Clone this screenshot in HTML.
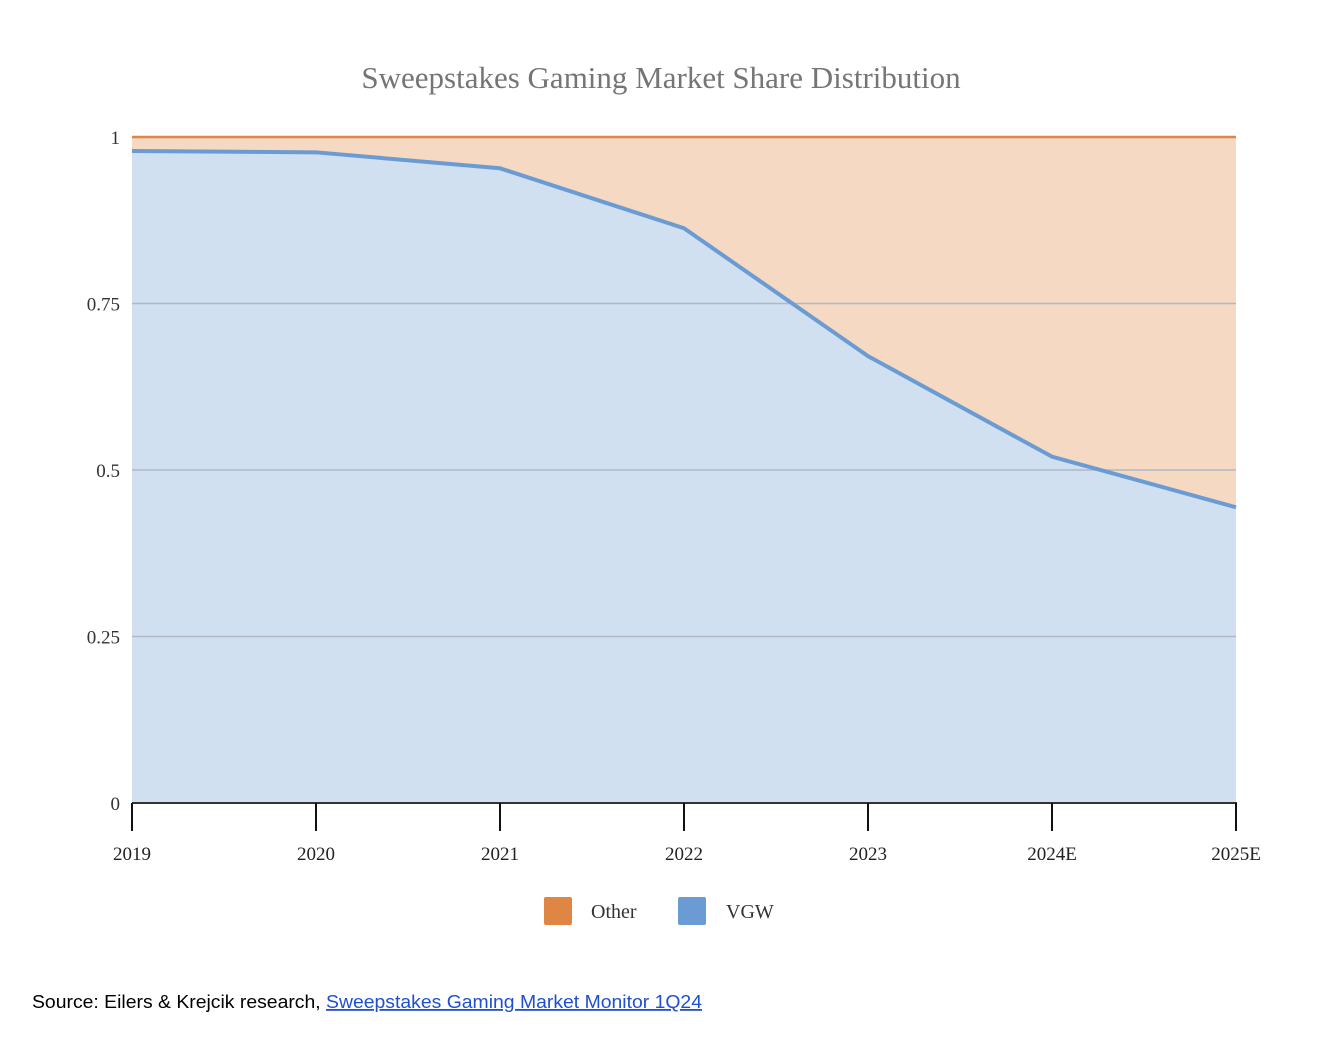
<!DOCTYPE html>
<html><head><meta charset="utf-8"><style>
html,body{margin:0;padding:0;background:#fff;width:1322px;height:1044px;overflow:hidden}
</style></head><body>
<svg id="chart" width="1322" height="1044" xmlns="http://www.w3.org/2000/svg" font-family="Liberation Serif, serif">
<text x="661" y="88" text-anchor="middle" font-size="31" fill="#757575">Sweepstakes Gaming Market Share Distribution</text>
<g id="grid"></g>
<g id="areas"></g>
<g id="axes"></g>
<g>
<rect x="544" y="897" width="28" height="28" rx="2" fill="#e08644"/>
<text x="591" y="918" font-size="20" fill="#333">Other</text>
<rect x="678" y="897" width="28" height="28" rx="2" fill="#6a9bd3"/>
<text x="726" y="918" font-size="20" fill="#333">VGW</text>
</g>
<text x="32" y="1008" font-family="Liberation Sans, sans-serif" font-size="18" fill="#000" textLength="670" lengthAdjust="spacingAndGlyphs">Source: Eilers &amp; Krejcik research, <tspan fill="#1d4fd0" text-decoration="underline">Sweepstakes Gaming Market Monitor 1Q24</tspan></text>
</svg>
<script>
const categories = ["2019","2020","2021","2022","2023","2024E","2025E"];
const vgwShare = [0.979, 0.977, 0.953, 0.863, 0.671, 0.520, 0.444];
const otherShare = [0.021, 0.023, 0.047, 0.137, 0.329, 0.480, 0.556];
const yTicks = [0, 0.25, 0.5, 0.75, 1];
const yTickLabels = ["0","0.25","0.5","0.75","1"];

const NS = "http://www.w3.org/2000/svg";
const x0 = 132, x1 = 1236, y0 = 803, y1 = 137;
const xScale = i => x0 + (x1 - x0) * i / (categories.length - 1);
const yScale = v => y0 - (y0 - y1) * v;
function mk(tag, attrs, parent){const e=document.createElementNS(NS,tag);for(const k in attrs)e.setAttribute(k,attrs[k]);parent.appendChild(e);return e;}
const grid = document.getElementById('grid'), areas = document.getElementById('areas'), axes = document.getElementById('axes');

// areas
let topPts = categories.map((c,i)=>[xScale(i), yScale(vgwShare[i]+otherShare[i])]);
let vgwPts = categories.map((c,i)=>[xScale(i), yScale(vgwShare[i])]);
let op = mk('polygon',{points:topPts.concat(vgwPts.slice().reverse()).map(p=>p.join(',')).join(' '),fill:'#f5d9c3'},areas);


let vp = mk('polygon',{points:vgwPts.concat([[xScale(categories.length-1),y0],[x0,y0]]).map(p=>p.join(',')).join(' '),fill:'#d0e0f0'},areas);



// gridlines over area
yTicks.forEach((t,i)=>{
  if(t>0 && t<1){
    const l = mk('line',{x1:x0,x2:x1,y1:yScale(t),y2:yScale(t),stroke:'#b0b8c4','stroke-width':1.5},axes);
    
    
  }
  const tx = mk('text',{x:120,y:yScale(t)+7,'text-anchor':'end','font-size':19,fill:'#333'},axes);
  tx.textContent = yTickLabels[i];
  
  
});
let ol = mk('polyline',{points:topPts.map(p=>p.join(',')).join(' '),fill:'none',stroke:'#e08644','stroke-width':2.5},axes);


let vl = mk('polyline',{points:vgwPts.map(p=>p.join(',')).join(' '),fill:'none',stroke:'#6a9bd3','stroke-width':4,'stroke-linejoin':'round'},axes);


let ax = mk('line',{x1:x0,x2:x1+1,y1:y0,y2:y0,stroke:'#333','stroke-width':2},axes);


categories.forEach((c,i)=>{
  const tk = mk('line',{x1:xScale(i),x2:xScale(i),y1:y0,y2:y0+28,stroke:'#111','stroke-width':2},axes);
  
  
  const tx = mk('text',{x:xScale(i),y:860,'text-anchor':'middle','font-size':19,fill:'#222'},axes);
  tx.textContent = c;
  
  
});
</script>
</body></html>
